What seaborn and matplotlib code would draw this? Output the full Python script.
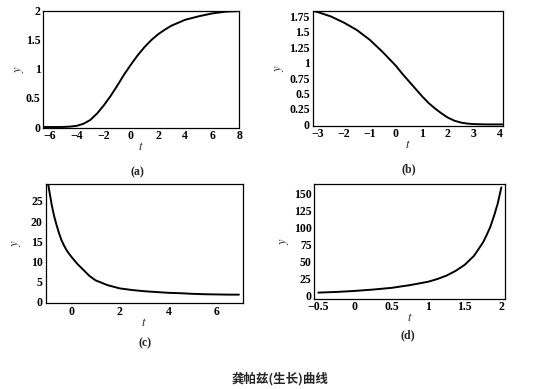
import numpy as np
import pandas as pd
import matplotlib
matplotlib.use("Agg")
import matplotlib.pyplot as plt
import seaborn as sns

# (a) rising curve
t_a = [-6.4, -6, -5.5, -5, -4.5, -4, -3.5, -3, -2.5, -2, -1.5, -1, -0.5, 0,
       0.5, 1, 1.5, 2, 2.5, 3, 3.5, 4, 5, 6, 7, 8]
y_a = [0, 0, 0, 0.001, 0.007, 0.02, 0.055, 0.12, 0.23, 0.37, 0.53, 0.71, 0.9, 1.07,
       1.23, 1.37, 1.49, 1.59, 1.67, 1.74, 1.79, 1.84, 1.9, 1.95, 1.98, 1.99]

# (b) falling curve
t_b = [-3.2, -3, -2.5, -2, -1.5, -1, -0.5, 0, 0.25, 0.5, 0.75, 1, 1.25, 1.5,
       1.75, 2, 2.25, 2.5, 2.75, 3, 3.5, 4.1]
y_b = [1.84, 1.82, 1.75, 1.65, 1.53, 1.37, 1.17, 0.95, 0.82, 0.7, 0.58, 0.46, 0.35, 0.26,
       0.18, 0.11, 0.06, 0.03, 0.013, 0.005, 0, 0]

# (c) decaying curve
t_c = [-1.0, -0.9, -0.8, -0.7, -0.6, -0.5, -0.4, -0.3, -0.2, -0.1, 0, 0.25, 0.5,
       0.75, 1, 1.5, 2, 2.5, 3, 3.5, 4, 4.5, 5, 5.5, 6, 6.5, 6.9]
y_c = [31, 27.5, 24, 21.2, 19, 17, 15.3, 14, 12.9, 12, 11.2, 9.4, 7.9,
       6.4, 5.3, 4.1, 3.3, 2.9, 2.6, 2.4, 2.2, 2.1, 1.95, 1.85, 1.8, 1.75, 1.75]

# (d) exploding curve
t_d = [-0.5, -0.25, 0, 0.25, 0.5, 0.75, 1, 1.125, 1.25, 1.375, 1.5, 1.625,
       1.75, 1.8, 1.85, 1.9, 1.95, 2.0]
y_d = [4, 5, 6.5, 8.5, 11, 15, 20, 24, 29, 36, 45, 58,
       78, 89, 101, 117, 135, 159]

xt_a = [-6, -4, -2, 0, 2, 4, 6, 8]
yt_a = [0, 0.5, 1, 1.5, 2]
xt_b = [-3, -2, -1, 0, 1, 2, 3, 4]
yt_b = [0, 0.25, 0.5, 0.75, 1, 1.25, 1.5, 1.75]
xt_c = [0, 2, 4, 6]
yt_c = [0, 5, 10, 15, 20, 25]
xt_d = [-0.5, 0, 0.5, 1, 1.5, 2]
yt_d = [0, 25, 50, 75, 100, 125, 150]

panel_names = ["(a)", "(b)", "(c)", "(d)"]
caption = "龚帕兹(生长)曲线"

sns.set_theme(style="white")
plt.rcParams["font.family"] = ["Liberation Serif", "DejaVu Serif"]
plt.rcParams["mathtext.fontset"] = "stix"

W, H = 550, 389
fig = plt.figure(figsize=(5.5, 3.89), dpi=100)

def fmt(v):
    return ("%g" % v).replace("-", "\u2212")

panels = [
    ([0.079, 0.672, 0.356, 0.301], t_a, y_a, xt_a, yt_a, (-6.45, 8.0), (-0.01, 2.0), 0, (137, 172)),
    ([0.5685, 0.677, 0.3465, 0.295], t_b, y_b, xt_b, yt_b, (-3.2, 4.13), (-0.02, 1.84), 2, (409, 169)),
    ([0.083, 0.2203, 0.358, 0.3067], t_c, y_c, xt_c, yt_c, (-1.05, 7.05), (-0.4, 29.2), 5.5, (145, 343)),
    ([0.5715, 0.2321, 0.3467, 0.2949], t_d, y_d, xt_d, yt_d, (-0.555, 2.05), (-5, 164), 2, (408, 335)),
]

for (rect, tx, ty, xt, yt, xl, yl, ypad, cap_xy), name in zip(panels, panel_names):
    ax = fig.add_axes(rect)
    df = pd.DataFrame({"t": tx, "y": ty})
    sns.lineplot(data=df, x="t", y="y", ax=ax, color="black", linewidth=1.4)
    ax.set_xlim(*xl)
    ax.set_ylim(*yl)
    ax.set_xticks(xt)
    ax.set_xticklabels([fmt(v) for v in xt], fontweight="bold", fontsize=8.5)
    ax.set_yticks(yt)
    ax.set_yticklabels([fmt(v) for v in yt], fontweight="bold", fontsize=8.5)
    ax.tick_params(direction="in", length=3, width=0.8, pad=2, colors="black")
    for s in ax.spines.values():
        s.set_color("black")
        s.set_linewidth(0.9)
    ax.set_xlabel("$t$", fontsize=9, labelpad=-1)
    ax.set_ylabel("$y$", fontsize=9, labelpad=ypad)
    ax.grid(False)
    fig.text(cap_xy[0] / W, 1 - cap_xy[1] / H, name, ha="center", va="center",
             fontsize=8.5, fontweight="bold")

fig.text(280 / W, 1 - 379 / H, caption, ha="center", va="center", fontsize=9,
         fontweight="bold", family=["Noto Sans CJK SC", "DejaVu Sans"])

fig.savefig("out.png", dpi=100, facecolor="white")
